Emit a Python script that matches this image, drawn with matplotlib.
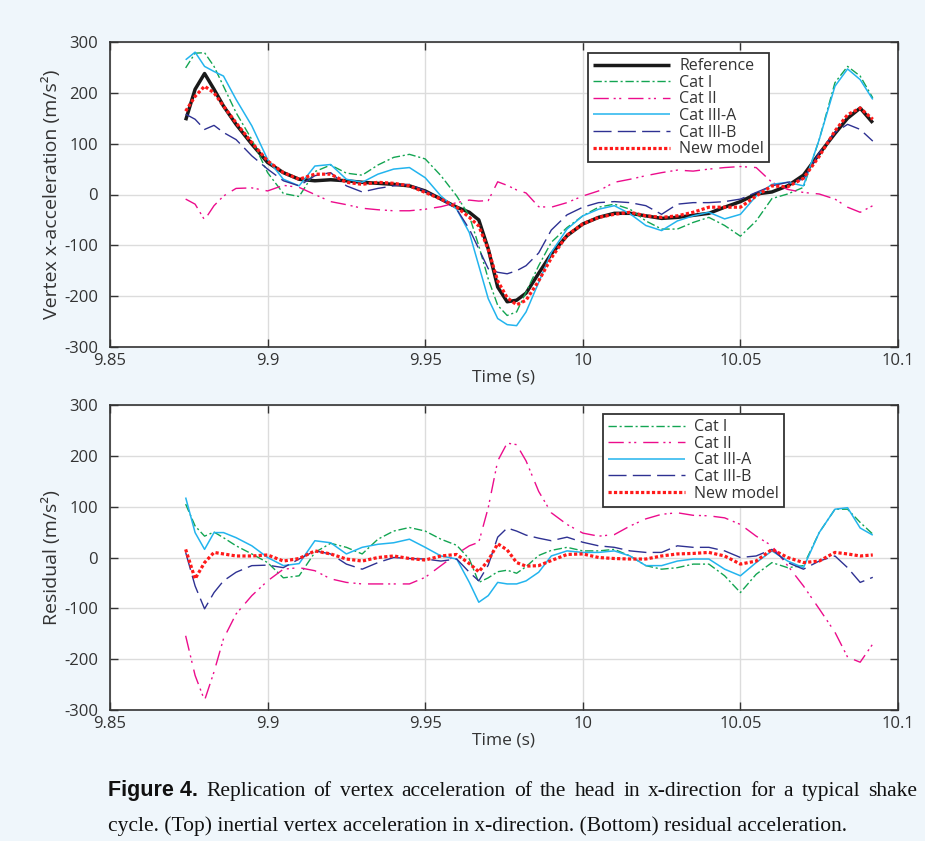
import numpy as np
import matplotlib
matplotlib.use('Agg')
import matplotlib.pyplot as plt

# ---------------- data ----------------
T = [9.874, 9.877, 9.880, 9.883, 9.886, 9.890, 9.895, 9.900, 9.905, 9.910,
     9.915, 9.920, 9.925, 9.930, 9.935, 9.940, 9.945, 9.950, 9.955, 9.960,
     9.964, 9.967, 9.970, 9.973, 9.976, 9.979, 9.982, 9.986, 9.990, 9.995,
     10.000, 10.005, 10.010, 10.015, 10.020, 10.025, 10.030, 10.035, 10.040, 10.045,
     10.050, 10.055, 10.060, 10.065, 10.070, 10.075, 10.080, 10.084, 10.088, 10.092]

ref_top = [146, 207, 238, 207, 174, 138, 99, 63, 43, 30,
           27, 29, 27, 24, 22, 20, 17, 7, -9, -25,
           -35, -50, -107, -182, -211, -208, -194, -155, -117, -81,
           -58, -45, -37, -37, -42, -47, -45, -41, -37, -25,
           -14, 1, 5, 17, 38, 80, 120, 150, 170, 141]
cat1_top = [249, 278, 279, 252, 213, 161, 108, 43, 2, -4,
            45, 58, 42, 38, 58, 73, 79, 70, 37, -3,
            -42, -101, -166, -218, -238, -231, -192, -140, -94, -65,
            -42, -25, -19, -29, -52, -68, -68, -55, -45, -61,
            -82, -52, -8, 1, 14, 108, 220, 252, 233, 190]
cat2_top = [-9, -19, -50, -22, -3, 12, 13, 7, 18, 14,
            0, -14, -20, -27, -30, -32, -32, -29, -24, -16,
            -11, -13, -12, 25, 18, 9, 3, -24, -25, -16,
            -3, 7, 24, 30, 37, 43, 48, 46, 50, 53,
            55, 53, 24, 10, 4, 1, -9, -25, -35, -22]
cat3a_top = [265, 280, 252, 242, 233, 187, 135, 69, 30, 17,
             56, 59, 30, 24, 40, 50, 53, 33, -3, -29,
             -75, -140, -205, -244, -256, -258, -231, -173, -114, -68,
             -42, -29, -22, -38, -61, -71, -52, -42, -35, -48,
             -39, -3, 20, 24, 17, 108, 213, 247, 226, 187]
cat3b_top = [158, 148, 128, 136, 122, 108, 76, 50, 27, 17,
             37, 43, 17, 5, 12, 17, 20, 7, -9, -29,
             -68, -107, -146, -153, -156, -150, -140, -115, -70, -40,
             -25, -16, -14, -16, -22, -39, -19, -16, -16, -14,
             -9, 4, 17, 24, 30, 82, 122, 138, 128, 105]
new_top = [164, 193, 213, 200, 174, 141, 102, 66, 43, 30,
           40, 40, 24, 20, 24, 22, 17, 4, -9, -25,
           -45, -62, -108, -170, -203, -217, -208, -170, -125, -80,
           -58, -45, -39, -35, -42, -45, -42, -35, -25, -25,
           -25, -3, 17, 15, 32, 75, 125, 157, 170, 148]

cat1_res = [105, 62, 42, 50, 39, 23, 7, -10, -40, -36,
            10, 28, 20, 7, 36, 52, 59, 52, 36, 24,
            -3, -49, -40, -28, -25, -31, -18, 4, 14, 20,
            13, 13, 16, 3, -16, -23, -20, -13, -13, -36,
            -69, -33, -10, -20, -16, 49, 95, 95, 69, 46]
cat2_res = [-154, -232, -281, -225, -160, -111, -75, -46, -23, -20,
            -26, -42, -49, -52, -52, -52, -52, -39, -16, 7,
            23, 30, 98, 190, 225, 222, 190, 130, 88, 65,
            48, 42, 45, 62, 76, 85, 88, 83, 82, 78,
            65, 42, 23, -16, -56, -101, -147, -196, -206, -170]
cat3a_res = [118, 49, 16, 49, 49, 39, 23, 0, -16, -12,
             33, 29, 7, 20, 26, 29, 36, 20, 3, -3,
             -49, -88, -75, -49, -52, -52, -46, -29, 3, 13,
             10, 10, 13, 3, -16, -16, -7, -3, -3, -23,
             -36, -10, 13, -7, -20, 49, 95, 98, 58, 44]
cat3b_res = [10, -56, -101, -69, -46, -29, -16, -15, -20, -3,
             13, 7, -13, -23, -10, 0, -2, -3, -7, -3,
             -29, -46, -15, 40, 58, 52, 44, 38, 33, 40,
             30, 23, 20, 13, 10, 10, 23, 20, 20, 13,
             0, 3, 16, -10, -23, -7, 3, -20, -49, -39]
new_res = [16, -42, -10, 10, 7, 3, 3, 5, -7, -2,
           13, 7, -3, -7, 0, 3, -2, -5, 3, 6,
           -12, -28, -6, 27, 15, -10, -17, -16, -6, 6,
           7, 0, -2, -3, -3, 3, 7, 8, 10, 3,
           -13, -7, 16, 0, -10, -7, 10, 7, 3, 5]

labels_top = ["Reference", "Cat I", "Cat II", "Cat III-A", "Cat III-B", "New model"]
labels_res = ["Cat I", "Cat II", "Cat III-A", "Cat III-B", "New model"]

xticks = [9.85, 9.9, 9.95, 10.0, 10.05, 10.1]
xtick_labels = ["9.85", "9.9", "9.95", "10", "10.05", "10.1"]
yticks = [-300, -200, -100, 0, 100, 200, 300]
ytick_labels = ["-300", "-200", "-100", "0", "100", "200", "300"]

# ---------------- styles ----------------
BG = '#eff6fb'
STY = {
    "Reference": dict(color='#1a1a1a', lw=2.5, ls='-'),
    "Cat I": dict(color='#13a552', lw=1.0, ls=(0, (6, 2, 1.5, 2))),
    "Cat II": dict(color='#ec0c8c', lw=1.0, ls=(0, (11, 3.5, 1.5, 2.5, 1.5, 5))),
    "Cat III-A": dict(color='#23b4ee', lw=1.1, ls='-'),
    "Cat III-B": dict(color='#2e3192', lw=1.0, ls=(0, (13, 4.5))),
    "New model": dict(color='#ff1a1a', lw=2.3, ls=(0, (1, 0.7))),
}

plt.rcParams['font.family'] = ['Open Sans', 'DejaVu Sans']
plt.rcParams['axes.unicode_minus'] = False

W, H = 925, 841
fig = plt.figure(figsize=(W / 100, H / 100), dpi=100, facecolor=BG)

def px_rect(l, t, r, b):
    return [l / W, 1 - b / H, (r - l) / W, (b - t) / H]

ax1 = fig.add_axes(px_rect(110, 42, 898, 347))
ax2 = fig.add_axes(px_rect(110, 405, 898, 710))

def style(ax, ylabel):
    ax.set_facecolor('white')
    ax.set_xlim(9.85, 10.1)
    ax.set_ylim(-300, 300)
    ax.set_xticks(xticks)
    ax.set_xticklabels(xtick_labels)
    ax.set_yticks(yticks)
    ax.set_yticklabels(ytick_labels)
    ax.grid(True, color='#dcdcdc', lw=1.0)
    ax.set_axisbelow(True)
    ax.tick_params(direction='in', length=6, width=1.0, top=True, right=True,
                   labelsize=12, color='#333333', labelcolor='#333333')
    ax.tick_params(axis='y', pad=8.5)
    ax.tick_params(axis='x', pad=4.5)
    for s in ax.spines.values():
        s.set_color('#333333')
        s.set_linewidth(1.2)
    ax.set_xlabel("Time (s)", fontsize=12.5, color='#333333', labelpad=0)
    ax.set_ylabel(ylabel, fontsize=14, color='#333333', labelpad=2)

t = np.array(T)
top_series = [ref_top, cat1_top, cat2_top, cat3a_top, cat3b_top, new_top]
for lab, ys in zip(labels_top, top_series):
    s = STY[lab]
    ax1.plot(t, ys, color=s['color'], lw=s['lw'], linestyle=s['ls'], label=lab,
             dash_capstyle='butt', solid_joinstyle='round', solid_capstyle='butt')
res_series = [cat1_res, cat2_res, cat3a_res, cat3b_res, new_res]
for lab, ys in zip(labels_res, res_series):
    s = STY[lab]
    ax2.plot(t, ys, color=s['color'], lw=s['lw'], linestyle=s['ls'], label=lab,
             dash_capstyle='butt', solid_joinstyle='round', solid_capstyle='butt')

style(ax1, "Vertex x-acceleration (m/s²)")
style(ax2, "Residual (m/s²)")

def legend(ax, anchor):
    lg = ax.legend(loc='upper left', bbox_to_anchor=anchor, borderaxespad=0,
                   fontsize=11.5, frameon=True, fancybox=False, framealpha=1,
                   edgecolor='#333333', handlelength=4.8, handletextpad=0.6,
                   labelspacing=0.04, borderpad=0.32)
    lg.get_frame().set_linewidth(1.3)
    for txt in lg.get_texts():
        txt.set_color('#333333')
    return lg

lg1 = legend(ax1, ((588 - 110) / 788, (347 - 53) / 305))
lg2 = legend(ax2, ((603 - 110) / 788, (710 - 414) / 305))

# widen the legend frames on the right, as in the reference
fig.canvas.draw()
renderer = fig.canvas.get_renderer()
for lg, right_px in ((lg1, 792), (lg2, 803)):
    fr = lg.get_frame()
    bb = fr.get_window_extent(renderer)
    extra = right_px - bb.x1
    if extra > 0:
        fr.set_width(fr.get_width() + extra)

# ---------------- caption (justified first line) ----------------
serif = ['Liberation Serif', 'DejaVu Serif']
sans_b = ['Liberation Sans', 'DejaVu Sans']
line1 = ["Replication", "of", "vertex", "acceleration", "of", "the", "head", "in",
         "x-direction", "for", "a", "typical", "shake"]
line2 = "cycle. (Top) inertial vertex acceleration in x-direction. (Bottom) residual acceleration."

fs = 14.5
probe = fig.text(0, 0, line2, fontsize=fs, family=serif)
w2 = probe.get_window_extent(renderer).width
probe.remove()
fs = fs * (845 - 108) / w2

def fx(x):
    return x / W

def fy(y):
    return 1 - y / H

items = []
tb = fig.text(0, fy(796), "Figure 4.", fontsize=fs, family=sans_b, weight='bold',
              va='baseline', color='#111111')
items.append(tb)
for w in line1:
    items.append(fig.text(0, fy(796), w, fontsize=fs, family=serif, va='baseline',
                          color='#111111'))
widths = [it.get_window_extent(renderer).width for it in items]
gap = (917 - 108 - sum(widths)) / (len(items) - 1)
x = 108
for it, w in zip(items, widths):
    it.set_x(fx(x))
    x += w + gap

fig.text(fx(108), fy(831), line2, fontsize=fs, family=serif, va='baseline',
         color='#111111')

fig.savefig('out.png', dpi=100, facecolor=BG)
